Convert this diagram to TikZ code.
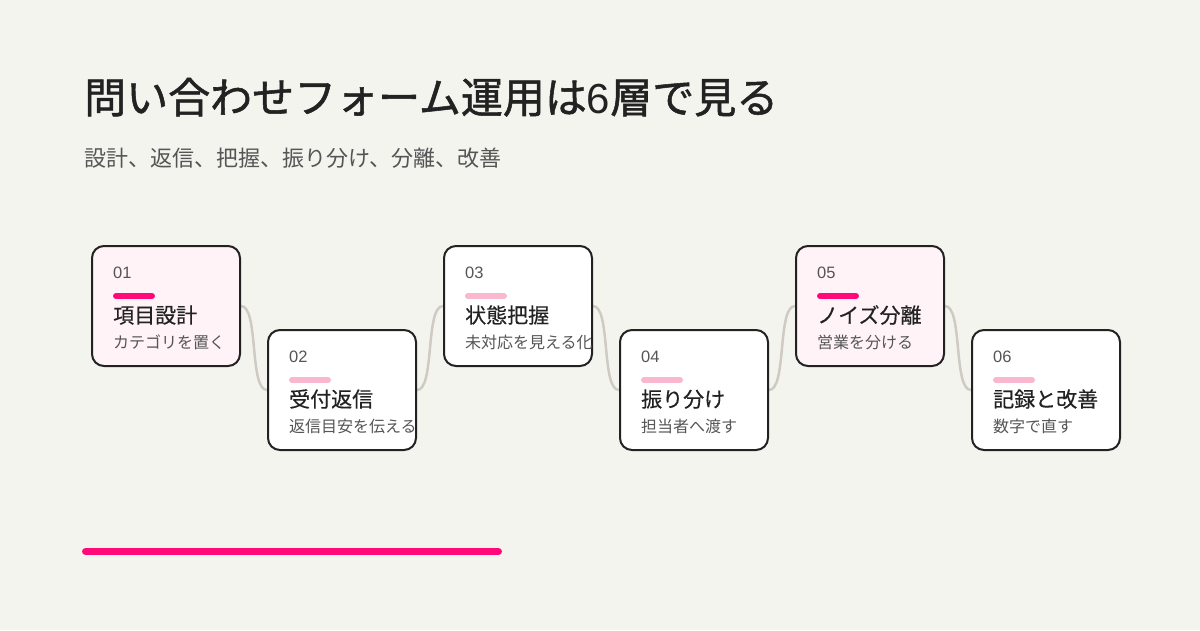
\documentclass[tikz,border=0pt]{standalone}
\usepackage{fontspec}
\setmainfont{Noto Sans CJK JP}
\newfontfamily\titlefont{Noto Sans CJK JP}[FakeBold=1.3]
\newfontfamily\cardtitlefont{Noto Sans CJK JP}[FakeBold=0.4]
\newfontfamily\digitfont{Liberation Sans}
\usetikzlibrary{calc}
\pgfdeclarelayer{back}
\pgfdeclarelayer{links}
\pgfsetlayers{back,links,main}
\definecolor{bgcol}{HTML}{F4F4EF}
\definecolor{ink}{HTML}{222222}
\definecolor{graytext}{HTML}{555555}
\definecolor{pinkfill}{HTML}{FFF3F7}
\definecolor{accent}{HTML}{FF0A78}
\definecolor{lightaccent}{HTML}{F9B7D0}
\definecolor{conncol}{HTML}{CFCAC2}
\begin{document}
\begin{tikzpicture}[x=1pt,y=-1pt,
  card/.style={draw=ink, line width=2pt, rounded corners=12pt, minimum width=148pt, minimum height=120pt, inner sep=0pt},
  num/.style={anchor=base west, inner sep=0pt, text=graytext, font=\digitfont\fontsize{16.5}{19}\selectfont},
  cardtitle/.style={anchor=base west, inner sep=0pt, text=ink, font=\cardtitlefont\fontsize{21}{25}\selectfont},
  cardsub/.style={anchor=base west, inner sep=0pt, text=graytext, font=\fontsize{16}{19}\selectfont},
  barline/.style={line width=6pt, line cap=round},
  conn/.style={draw=conncol, line width=2.5pt}]
\begin{pgfonlayer}{back}
\fill[bgcol] (0,0) rectangle (1200,630);
\end{pgfonlayer}
\useasboundingbox (0,0) rectangle (1200,630);
\node[anchor=base west, inner sep=0pt, text=ink, font=\titlefont\fontsize{42}{50}\selectfont] (title) at (84,113) {問い合わせフォーム運用は{\digitfont 6}層で見る};
\node[anchor=base west, inner sep=0pt, text=graytext, font=\fontsize{22}{26}\selectfont] (subtitle) at (84,166) {設計、返信、把握、振り分け、分離、改善};
\foreach \ci/\cx/\cy/\cf/\cb/\ct/\cs in {
  1/166/306/pinkfill/accent/項目設計/カテゴリを置く,
  2/342/390/white/lightaccent/受付返信/返信目安を伝える,
  3/518/306/white/lightaccent/状態把握/未対応を見える化,
  4/694/390/white/lightaccent/振り分け/担当者へ渡す,
  5/870/306/pinkfill/accent/ノイズ分離/営業を分ける,
  6/1046/390/white/lightaccent/記録と改善/数字で直す} {
  \node[card, fill=\cf] (c\ci) at (\cx,\cy) {};
  \node[num] (n\ci) at ($(c\ci.north west)+(22,33)$) {0\ci};
  \draw[barline, \cb] ($(c\ci.north west)+(25,51)$) -- ++(36,0);
  \node[cardtitle] (t\ci) at ($(c\ci.north west)+(22,78)$) {\ct};
  \node[cardsub] (s\ci) at ($(c\ci.north west)+(22,103)$) {\cs};
}
\begin{pgfonlayer}{links}
\foreach \ca/\cb in {1/2,2/3,3/4,4/5,5/6}
  \draw[conn] (c\ca.east) .. controls +(18,0) and +(-18,0) .. (c\cb.west);
\end{pgfonlayer}
\coordinate (barstart) at (85.5,551.5);
\coordinate (barend) at (498.5,551.5);
\draw[accent, line width=7pt, line cap=round] (barstart) -- (barend);
\end{tikzpicture}
\end{document}
